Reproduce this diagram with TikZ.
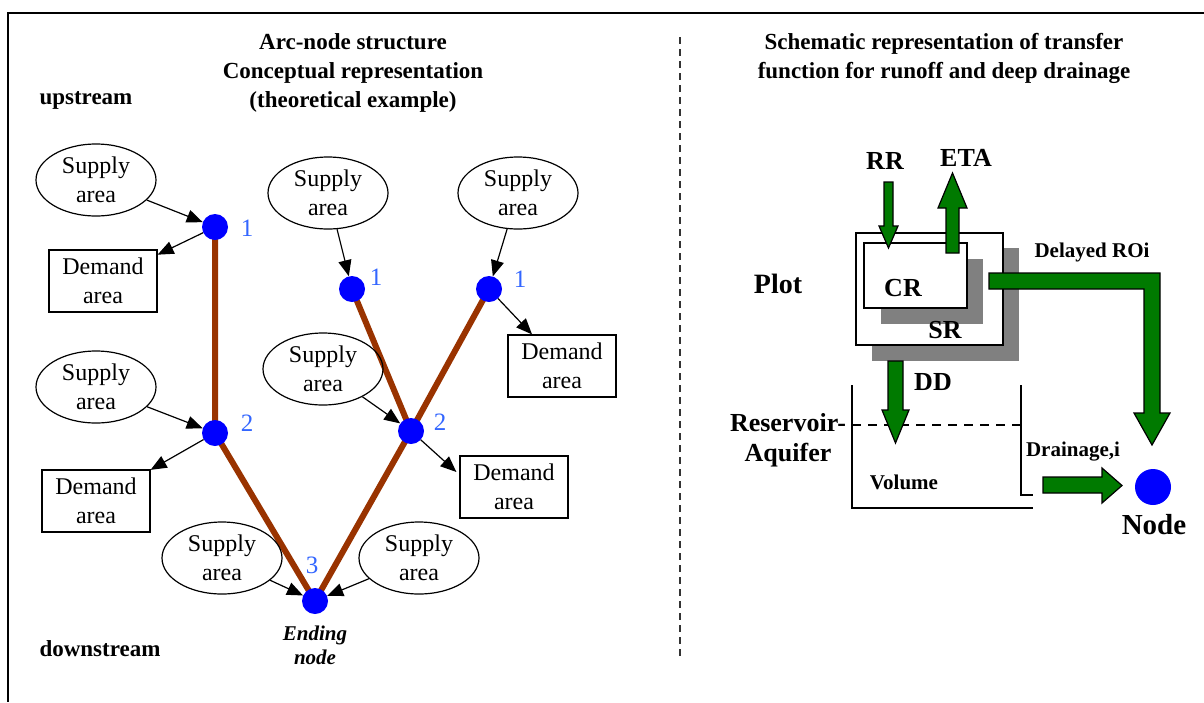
\documentclass[tikz,border=0pt]{standalone}
\usepackage{fontspec}
\setmainfont{Liberation Serif}
\usetikzlibrary{arrows.meta,calc,shapes.geometric}
\definecolor{arcbrown}{HTML}{993300}
\definecolor{flowgreen}{HTML}{007A00}
\definecolor{idblue}{HTML}{3366FF}
\definecolor{shadowgray}{HTML}{808080}

\begin{document}
\begin{tikzpicture}[x=1pt,y=-1pt,
  supply/.style={ellipse,draw,line width=1.2pt,minimum width=120pt,minimum height=72pt,inner sep=0pt,
    label={[align=center,font=\fontsize{24}{29}\selectfont]center:Supply\\area}},
  demand/.style={rectangle,draw,line width=1.2pt,minimum width=108pt,minimum height=62pt,inner sep=0pt,
    align=center,font=\fontsize{24}{29}\selectfont},
  junction/.style={circle,fill=blue,minimum size=26pt,inner sep=0pt},
  idlabel/.style={text=idblue,font=\fontsize{25}{25}\selectfont,inner sep=0pt},
  arc/.style={arcbrown,line width=6pt},
  flow/.style={-{Triangle[length=16pt,width=13pt]},line width=1.2pt},
  heading/.style={font=\bfseries\fontsize{23}{29}\selectfont,align=center},
  side/.style={font=\bfseries\fontsize{23}{29}\selectfont,anchor=west},
  big/.style={font=\bfseries\fontsize{26}{30}\selectfont,align=center,inner sep=0pt},
  small/.style={font=\bfseries\fontsize{21}{24}\selectfont,align=center,inner sep=0pt},
  block/.style={fill=flowgreen,draw=black,line width=1.2pt,line join=miter},
  plate/.style={draw,line width=1.2pt,fill=white,inner sep=0pt},
  wall/.style={line width=2.2pt}
]
\useasboundingbox (0,0) rectangle (1204,702);

% frame and divider
\draw[line width=2pt] (1204,13) -- (8,13) -- (8,702);
\draw[line width=1.3pt,dash pattern=on 7pt off 5pt,black!80] (680,37) -- (680,660);

% ---------------- arc-node structure ----------------
\node[heading] (ltitle) at (353,73) {Arc-node structure\\Conceptual representation\\(theoretical example)};
\node[side] (up) at (36,100) {upstream};
\node[side] (down) at (36,649) {downstream};

% junctions
\coordinate (pa1) at (215,227);
\coordinate (pa2) at (215,433);
\coordinate (pb1) at (352,289);
\coordinate (pb2) at (411,431);
\coordinate (pc1) at (489,289);
\coordinate (pe3) at (315,601);

% river arcs
\draw[arc] (pa1) -- (pa2) -- (pe3);
\draw[arc] (pb1) -- (pb2) -- (pe3);
\draw[arc] (pc1) -- (pb2);

\node[junction] (a1) at (pa1) {};
\node[junction] (a2) at (pa2) {};
\node[junction] (b1) at (pb1) {};
\node[junction] (b2) at (pb2) {};
\node[junction] (c1) at (pc1) {};
\node[junction] (e3) at (pe3) {};

\node[idlabel] (la1) at (247,228) {1};
\node[idlabel] (lb1) at (376,277) {1};
\node[idlabel] (lc1) at (520,279) {1};
\node[idlabel] (la2) at (247,423) {2};
\node[idlabel] (lb2) at (440,422) {2};
\node[idlabel] (le3) at (312,565) {3};

% supply and demand areas
\node[supply] (s1) at (96,180) {};
\node[supply] (s2) at (328,193) {};
\node[supply] (s3) at (518,193) {};
\node[supply] (s4) at (96,387) {};
\node[supply] (s5) at (323,369) {};
\node[supply] (s6) at (222,558) {};
\node[supply] (s7) at (419,558) {};

\node[demand] (d1) at (103,281) {Demand\\area};
\node[demand] (d2) at (96,501) {Demand\\area};
\node[demand] (d3) at (562,366) {Demand\\area};
\node[demand] (d4) at (514,487) {Demand\\area};

\draw[flow] (s1) -- (a1);
\draw[flow] (a1) -- (d1);
\draw[flow] (s2) -- (b1);
\draw[flow] (s3) -- (c1);
\draw[flow] (c1) -- (d3);
\draw[flow] (s4) -- (a2);
\draw[flow] (a2) -- (d2);
\draw[flow] (s5) -- (b2);
\draw[flow] (b2) -- ($(d4.west)+(-3,-15)$);
\draw[flow] (s6) -- (e3);
\draw[flow] (s7) -- (e3);

\node[font=\bfseries\itshape\fontsize{21}{24}\selectfont,align=center] (endlbl) at (315,645) {Ending\\node};

% ---------------- transfer function schematic ----------------
\node[heading] (rtitle) at (944,58) {Schematic representation of transfer\\function for runoff and deep drainage};

\fill[shadowgray] (872,248) rectangle (1019,361);
\node[plate,minimum width=147pt,minimum height=112pt] (plot) at (929.5,289) {};
\fill[shadowgray] (881,259) rectangle (983,324);
\node[plate,minimum width=103pt,minimum height=65pt] (cr) at (915.5,275.5) {};

\node[big] (crl) at (903,288) {CR};
\node[big] (srl) at (945,330) {SR};
\node[font=\bfseries\fontsize{28}{30}\selectfont,inner sep=0pt] (plotl) at (778,284) {Plot};
\node[big] (rrl) at (885,161) {RR};
\node[big] (etal) at (966,158) {ETA};
\node[big] (ddl) at (933,382) {DD};
\node[big] (resl) at (788,440) {Reservoir-\\Aquifer};
\node[small] (dro) at (1092,252) {Delayed ROi};
\node[small] (vol) at (904,482) {Volume};
\node[small] (drn) at (1073,452) {Drainage,i};

% reservoir
\draw[wall] (852,385) -- (852,508) -- (1033,508);
\draw[wall] (1021,385) -- (1021,495) -- (1033,495);
\draw[line width=2pt,dash pattern=on 9pt off 7pt] (852,425) -- (1021,425);

% outlet node
\node[circle,fill=blue,minimum size=36pt,inner sep=0pt] (outnode) at (1153,487) {};
\node[font=\bfseries\fontsize{29}{30}\selectfont,inner sep=0pt] (outl) at (1154,525) {Node};

% block arrows
\draw[block] (884,182) -- (893,182) -- (893,226) -- (898,226) -- (888.5,248) -- (879,226) -- (884,226) -- cycle;
\draw[block] (946,253) -- (959,253) -- (959,208) -- (967,208) -- (952.5,173) -- (938,208) -- (946,208) -- cycle;
\draw[block] (989,273) -- (1160,273) -- (1160,413) -- (1170,413) -- (1152,445) -- (1134,413) -- (1144,413) -- (1144,289) -- (989,289) -- cycle;
\draw[block] (888,361) -- (903,361) -- (903,410) -- (909,410) -- (895.5,443) -- (882,410) -- (888,410) -- cycle;
\draw[block] (1043,477) -- (1102,477) -- (1102,468) -- (1122,485.5) -- (1102,503) -- (1102,493) -- (1043,493) -- cycle;
\end{tikzpicture}
\end{document}
